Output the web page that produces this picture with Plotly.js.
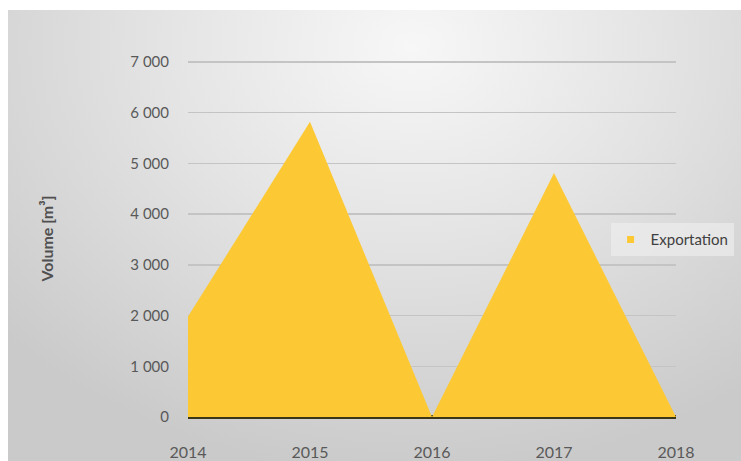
<!DOCTYPE html>
<html>
<head>
<meta charset="utf-8">
<script src="https://cdn.plot.ly/plotly-3.0.1.min.js"></script>
<style>
  html, body { margin: 0; padding: 0; background: #ffffff; }
  #frame {
    position: absolute; left: 0; top: 0; width: 741px; height: 461px;
    background: #ffffff;
  }
  #bg {
    position: absolute; left: 8px; top: 10px; width: 733px; height: 451px;
    background: radial-gradient(ellipse 75% 95% at 55% 8%, #f7f7f7 0%, #e4e4e4 45%, #cacaca 100%);
  }
  #chart { position: absolute; left: 0; top: 0; width: 741px; height: 461px; }
</style>
</head>
<body>
<div id="frame"><div id="bg"></div><div id="chart"></div></div>
<script>
  const years = [2014, 2015, 2016, 2017, 2018];
  const exportation = [1980, 5820, 0, 4810, 0];
  const yTicks = [0, 1000, 2000, 3000, 4000, 5000, 6000, 7000];
  const yTickLabels = ['0', '1 000', '2 000', '3 000', '4 000', '5 000', '6 000', '7 000'];
  const seriesName = 'Exportation';

  const fillColor = '#FCC935';
  const font = 'Lato, "Open Sans", sans-serif';

  const traces = [
    {
      x: years, y: exportation, type: 'scatter', mode: 'lines',
      fill: 'tozeroy', fillcolor: fillColor,
      line: { width: 0, color: fillColor },
      showlegend: false, hoverinfo: 'x+y'
    },
    {
      x: [null], y: [null], type: 'scatter', mode: 'markers',
      name: seriesName,
      marker: { symbol: 'square', size: 7, color: fillColor }
    }
  ];

  const layout = {
    width: 741, height: 461,
    margin: { l: 188, r: 65, t: 60, b: 44, autoexpand: false },
    paper_bgcolor: 'rgba(0,0,0,0)',
    plot_bgcolor: 'rgba(0,0,0,0)',
    font: { family: font, size: 15, color: '#595959' },
    xaxis: {
      range: [2014, 2018],
      tickvals: years, ticktext: years.map(String),
      showgrid: false, zeroline: false, showline: false,
      ticks: '', ticklen: 0,
      ticklabelstandoff: 24,
      tickfont: { size: 16, color: '#595959' },
      automargin: false
    },
    yaxis: {
      range: [0, 7040],
      tickvals: yTicks, ticktext: yTickLabels,
      showgrid: true, gridcolor: '#c4c4c4', gridwidth: 1.5,
      zeroline: true, zerolinecolor: '#3b3616', zerolinewidth: 4,
      showline: false, ticks: '',
      ticklabelstandoff: 18,
      tickfont: { size: 15, color: '#595959' },
      title: { text: 'Volume [m³]', font: { size: 16, color: '#505050', family: font, weight: 'bold' }, standoff: 72 },
      automargin: false
    },
    legend: {
      xref: 'container', yref: 'container',
      x: 0.99, xanchor: 'right', y: 0.48, yanchor: 'middle',
      bgcolor: 'rgba(240,240,240,0.6)',
      font: { size: 15, color: '#404040' },
      itemwidth: 30
    },
    showlegend: true
  };

  Plotly.newPlot('chart', traces, layout, { displayModeBar: false, staticPlot: true });
</script>
</body>
</html>
